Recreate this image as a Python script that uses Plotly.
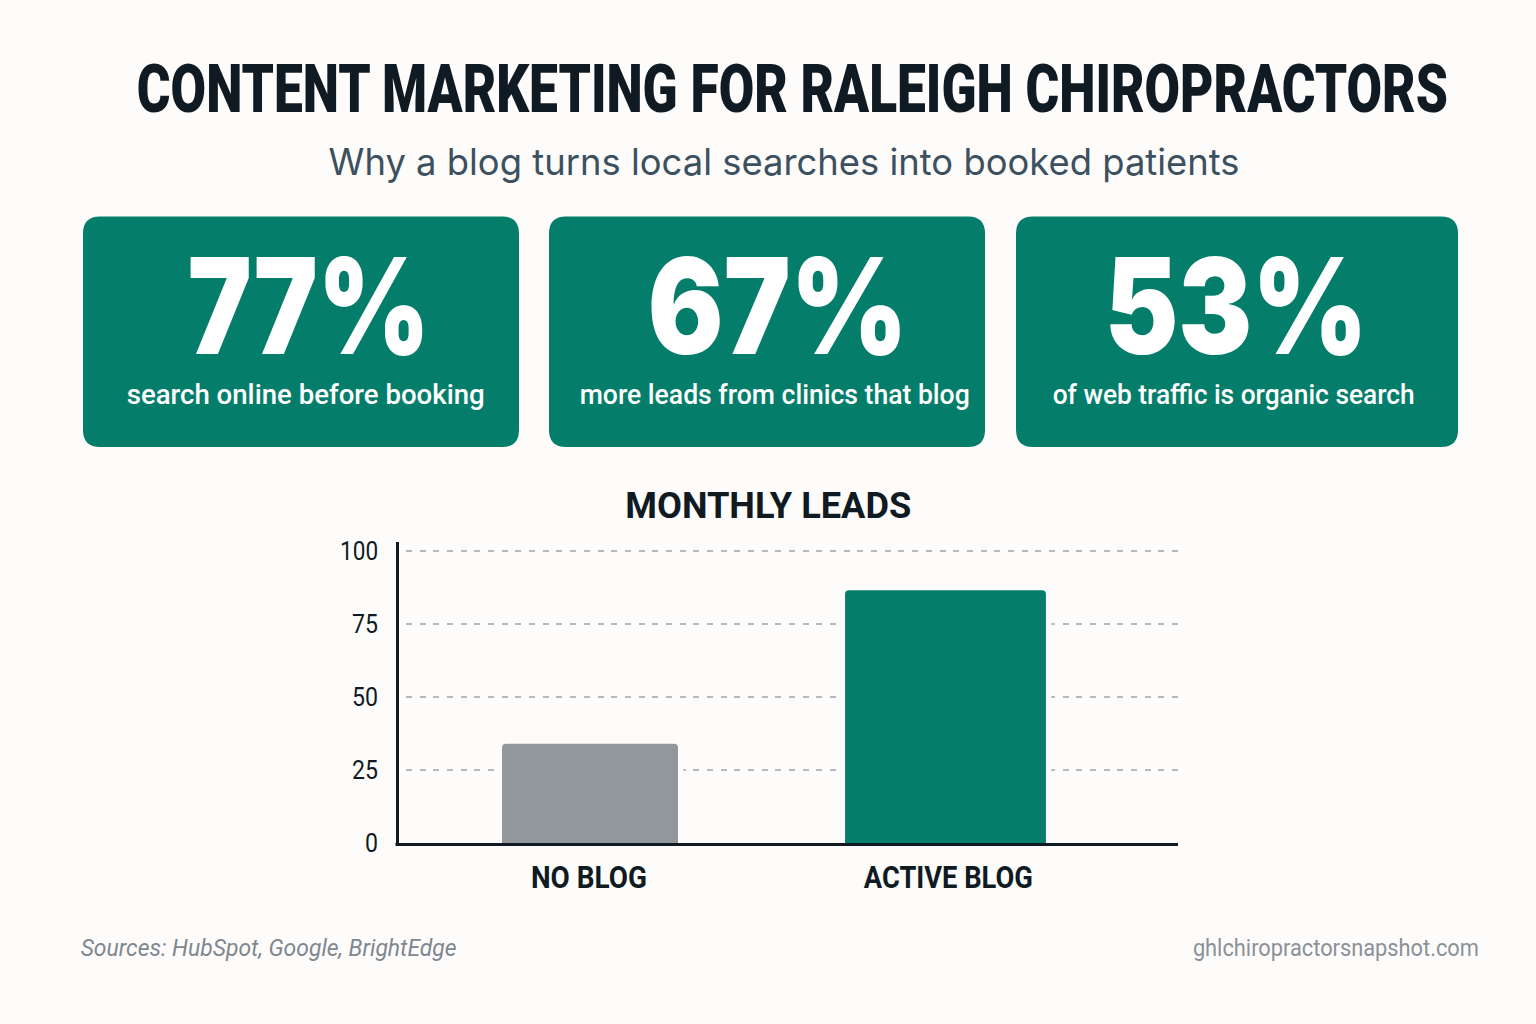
import json
import plotly.graph_objects as go

W = 1536
H = 1024

# chart data
categories = ["NO BLOG", "ACTIVE BLOG"]
monthly_leads = [34, 86.7]
y_ticks = [0, 25, 50, 75, 100]

# stat cards
card_values = ["77%", "67%", "53%"]
card_labels = [
    "search online before booking",
    "more leads from clinics that blog",
    "of web traffic is organic search",
]

TITLE = "CONTENT MARKETING FOR RALEIGH CHIROPRACTORS"
SUBTITLE = "Why a blog turns local searches into booked patients"
CHART_TITLE = "MONTHLY LEADS"
SOURCES = "Sources: HubSpot, Google, BrightEdge"
SITE = "ghlchiropractorsnapshot.com"

BG = "#fdfcfa"
GREEN = "#047e6a"
GREY = "#92979d"
INK = "#0f1a22"

# no condensed font is installed, so these get squeezed to width in the browser
text_widths = {
    TITLE: 1311, SUBTITLE: 911, CHART_TITLE: 286, SOURCES: 376, SITE: 286,
    "77%": 242, "67%": 260, "53%": 263,
    card_labels[0]: 358, card_labels[1]: 390, card_labels[2]: 362,
    "NO BLOG": 116, "ACTIVE BLOG": 169,
    "100": 38, "75": 26, "50": 26, "25": 26, "0": 13,
}


def px(x):
    return x / W


def py(y):
    return 1 - y / H


def rounded_rect(x0, y0, x1, y1, r):
    """SVG path for a rounded box, in paper coordinates"""
    X0, X1, Y0, Y1 = px(x0), px(x1), py(y0), py(y1)
    rx, ry = r / W, r / H
    return (
        f"M {X0 + rx} {Y0} L {X1 - rx} {Y0} Q {X1} {Y0} {X1} {Y0 - ry} "
        f"L {X1} {Y1 + ry} Q {X1} {Y1} {X1 - rx} {Y1} "
        f"L {X0 + rx} {Y1} Q {X0} {Y1} {X0} {Y1 + ry} "
        f"L {X0} {Y0 - ry} Q {X0} {Y0} {X0 + rx} {Y0} Z"
    )


def add_text(fig, text, x, y, size, color, family, weight=400, xanchor="center", style="normal"):
    fig.add_annotation(
        text=text, x=px(x), y=py(y), xref="paper", yref="paper",
        xanchor=xanchor, yanchor="middle", showarrow=False,
        font=dict(size=size, color=color, family=family, weight=weight, style=style),
    )


fig = go.Figure()

# background coloured halo so the dashed grid stops short of the bars
fig.add_trace(go.Bar(
    x=categories, y=monthly_leads, width=[0.525, 0.595],
    marker=dict(color=BG, line_width=0), hoverinfo="skip", showlegend=False,
))
fig.add_trace(go.Bar(
    x=categories, y=monthly_leads, width=[0.495, 0.565],
    marker=dict(color=[GREY, GREEN], line_width=0, cornerradius=4), showlegend=False,
))

fig.update_layout(
    width=W, height=H,
    margin=dict(l=0, r=0, t=0, b=0),
    paper_bgcolor=BG, plot_bgcolor=BG,
    barmode="overlay",
    showlegend=False,
)

# x axis starts a little right of the y axis so the grid leaves a gap there
fig.update_xaxes(
    domain=[px(406), px(1178)],
    range=[-0.5176, 1.654],
    automargin=False,
    tickmode="array", tickvals=[-0.003, 1.008], ticktext=categories,
    tickfont=dict(size=31, color=INK, family="Roboto", weight=700),
    showgrid=False, zeroline=False,
    showline=True, linecolor=INK, linewidth=3,
    ticks="outside", ticklen=5, tickcolor="rgba(0,0,0,0)",
)
fig.update_yaxes(
    domain=[py(843), py(542)],
    range=[0, 103.2],
    anchor="free", position=px(396.8),
    automargin=False,
    tickmode="array", tickvals=y_ticks,
    tickfont=dict(size=26, color=INK, family="Roboto"),
    showgrid=True, gridcolor="#b7babc", gridwidth=1.5, griddash="6px,7.68px",
    zeroline=False,
    showline=True, linecolor=INK, linewidth=3,
    ticks="outside", ticklen=12.5, tickcolor="rgba(0,0,0,0)",
)

# baseline piece across that gap
fig.add_shape(
    type="line", x0=px(395.5), x1=px(406), y0=py(844.5), y1=py(844.5), xref="paper", yref="paper",
    line=dict(color=INK, width=3),
)

# cards
card_boxes = [(83, 216.5, 519, 447), (549, 216.5, 985, 447), (1016, 216.5, 1458, 447)]
for box in card_boxes:
    fig.add_shape(
        type="path", path=rounded_rect(*box, 17), xref="paper", yref="paper",
        fillcolor=GREEN, line_width=0, layer="below",
    )

value_centers = [309, 778, 1235.5]
label_centers = [305, 774, 1233.5]
for value, vx, label, lx in zip(card_values, value_centers, card_labels, label_centers):
    add_text(fig, value, vx, 305, 133, "#ffffff", "Inter", 900)
    add_text(fig, label, lx, 394, 28, "#ffffff", "Roboto", 500)

add_text(fig, TITLE, 792.5, 89, 67, INK, "Roboto", 900)
add_text(fig, SUBTITLE, 783.5, 161, 37, "#3d5060", "Inter", 400)
add_text(fig, CHART_TITLE, 768, 506, 36, INK, "Roboto", 700)
add_text(fig, SOURCES, 77.5, 948, 23, "#7f8790", "Roboto", 400, "left", "italic")
add_text(fig, SITE, 1489, 948, 23, "#8a9199", "Roboto", 400, "right")

squeeze = """
document.body.style.margin = '0';
var widths = %s;
document.querySelectorAll('.main-svg text').forEach(function (t) {
    var w = widths[t.textContent];
    if (w) {
        t.setAttribute('textLength', w);
        t.setAttribute('lengthAdjust', 'spacingAndGlyphs');
    }
});
""" % json.dumps(text_widths)

fig.write_html("out.html", post_script=squeeze, config={"displayModeBar": False})
